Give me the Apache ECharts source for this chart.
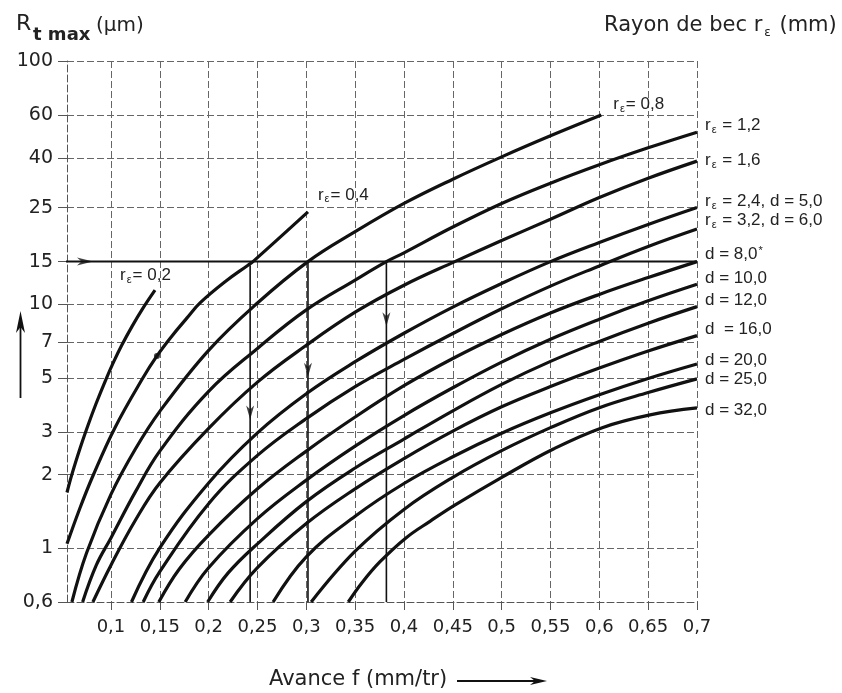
<!DOCTYPE html>
<html><head><meta charset="utf-8">
<script src="https://cdn.jsdelivr.net/npm/echarts@6/dist/echarts.min.js"></script>
<style>html,body{margin:0;padding:0;background:#fff}#c{width:842px;height:693px}</style>
</head><body><div id="c"></div>
<script>
// ---- axis ticks ----
const xTicks = [0.1, 0.15, 0.2, 0.25, 0.3, 0.35, 0.4, 0.45, 0.5, 0.55, 0.6, 0.65, 0.7];
const yTicks = [0.6, 1, 2, 3, 5, 7, 10, 15, 25, 40, 60, 100];

// ---- curves: [feed f (mm/tr), Rt max (µm)] ----
const rE02 = [[0.055,1.69],[0.0601,2.01],[0.0683,2.56],[0.0755,3.11],[0.0847,3.91],[0.0949,4.93],[0.1031,5.85],[0.1113,6.83],[0.1216,8.13],[0.1328,9.66],[0.1451,11.45]];
const rE04 = [[0.055,1.04],[0.0683,1.46],[0.0816,1.98],[0.1041,3.12],[0.1328,5.0],[0.1471,6.15],[0.1625,7.43],[0.1779,8.81],[0.1912,10.15],[0.2168,12.4],[0.2403,14.5],[0.2454,15],[0.3017,24]];
const rE08 = [[0.06,0.6],[0.075,0.954],[0.1,1.66],[0.125,2.55],[0.15,3.64],[0.2,6.48],[0.25,10.14],[0.3017,15],[0.35,19.9],[0.4,26],[0.45,32.7],[0.5,40.4],[0.55,49.3],[0.602,60]];
const rE12 = [[0.071,0.6],[0.085,0.85],[0.1,1.1],[0.125,1.7],[0.15,2.5],[0.2,4.4],[0.25,6.6],[0.3,9.5],[0.35,12.6],[0.382,15],[0.4,16.3],[0.45,20.8],[0.5,26],[0.55,31.5],[0.6,37.5],[0.65,44],[0.7,51]];
const rE16 = [[0.0815,0.6],[0.1,0.85],[0.125,1.3],[0.15,1.85],[0.2,3.1],[0.25,4.8],[0.3,6.8],[0.35,9.3],[0.4,12.0],[0.452,15],[0.5,18.3],[0.55,22.4],[0.6,27.5],[0.65,33],[0.7,38.8]];
const d05 = [[0.121,0.6],[0.15,1.0],[0.2,1.85],[0.25,2.97],[0.3,4.3],[0.35,5.82],[0.4,7.62],[0.45,9.76],[0.5,12.2],[0.55,15],[0.6,17.97],[0.65,21.3],[0.7,25]];
const d06 = [[0.133,0.6],[0.15,0.8],[0.2,1.52],[0.25,2.4],[0.3,3.4],[0.35,4.6],[0.4,5.95],[0.45,7.6],[0.5,9.6],[0.55,11.9],[0.6,14.4],[0.65,17.3],[0.7,20.4]];
const d08 = [[0.149,0.6],[0.17,0.82],[0.2,1.13],[0.25,1.75],[0.3,2.5],[0.35,3.45],[0.4,4.64],[0.45,6.0],[0.5,7.53],[0.55,9.23],[0.6,11.0],[0.65,12.9],[0.7,15]];
const d10 = [[0.176,0.6],[0.2,0.83],[0.25,1.32],[0.3,1.9],[0.35,2.62],[0.4,3.5],[0.45,4.55],[0.5,5.8],[0.55,7.2],[0.6,8.7],[0.65,10.35],[0.7,12.1]];
const d12 = [[0.199,0.6],[0.22,0.79],[0.25,1.04],[0.3,1.55],[0.35,2.13],[0.4,2.8],[0.45,3.66],[0.5,4.7],[0.55,5.84],[0.6,7.05],[0.65,8.38],[0.7,9.8]];
const d16 = [[0.222,0.6],[0.25,0.83],[0.3,1.26],[0.35,1.75],[0.4,2.33],[0.45,3.02],[0.5,3.8],[0.55,4.6],[0.6,5.48],[0.65,6.44],[0.7,7.45]];
const d20 = [[0.266,0.6],[0.3,0.92],[0.35,1.35],[0.4,1.84],[0.45,2.37],[0.5,2.96],[0.55,3.59],[0.6,4.26],[0.65,4.97],[0.7,5.7]];
const d25 = [[0.305,0.6],[0.35,0.97],[0.4,1.44],[0.45,1.95],[0.5,2.51],[0.55,3.12],[0.6,3.77],[0.65,4.35],[0.7,4.95]];
const d32 = [[0.343,0.6],[0.357,0.72],[0.3755,0.878],[0.402,1.10],[0.427,1.29],[0.452,1.5],[0.501,1.96],[0.553,2.55],[0.603,3.12],[0.652,3.52],[0.7,3.76]];

// ---- curve labels ----
const labelRE02 = '{a|r}{s|ε}{a|= 0,2}';
const labelRE04 = '{a|r}{s|ε}{a|= 0,4}';
const labelRE08 = '{a|r}{s|ε}{a|= 0,8}';
const labelRE12 = '{a|r}{s|ε}{a| = 1,2}';
const labelRE16 = '{a|r}{s|ε}{a| = 1,6}';
const labelD05 = '{a|r}{s|ε}{a| = 2,4, d = 5,0}';
const labelD06 = '{a|r}{s|ε}{a| = 3,2, d = 6,0}';
const labelD08 = '{a|d = 8,0}{p|*}';
const labelD10 = '{a|d = 10,0}';
const labelD12 = '{a|d = 12,0}';
const labelD16 = '{a|d  = 16,0}';
const labelD20 = '{a|d = 20,0}';
const labelD25 = '{a|d = 25,0}';
const labelD32 = '{a|d = 32,0}';

// ---- reading example (arrows) ----
const refLevel = 15;
const refLineStart = 0.048;
const refLineEnd = 0.7;
const refFeeds = [0.2425, 0.3017, 0.382];
const refTops = [14.5, 15, 15];
const refArrowValues = [3.6, 5.4, 8.7];
const refArrowInFeed = 0.0734;
const boldDot = [[0.1471, 6.15]];

const FONT = 'Liberation Sans, Arial, sans-serif';
const TICKFONT = 'DejaVu Sans, sans-serif';
const rich = {
  a: {fontSize: 17, fontFamily: FONT, color: '#222', lineHeight: 20},
  s: {fontSize: 11, fontFamily: FONT, color: '#222', lineHeight: 20, verticalAlign: 'bottom', padding: [6, 1, 0, 1]},
  p: {fontSize: 11, fontFamily: FONT, color: '#222', lineHeight: 20, padding: [0, 0, 8, 1]}
};

function curve(name, data, label, offset, dist) {
  return {
    name: name, type: 'line', data: data, smooth: 0.4,
    showSymbol: false, symbol: 'none', silent: true, z: 5,
    lineStyle: {color: '#111', width: 3.2},
    endLabel: {show: true, formatter: () => label, rich: rich, distance: dist === undefined ? 8 : dist, offset: offset || [0, 0]}
  };
}

const series = [
  curve('rE02', rE02, labelRE02, [-40, -15], 5),
  curve('rE04', rE04, labelRE04, [5, -17], 5),
  curve('rE08', rE08, labelRE08, [7, -11], 5),
  curve('rE12', rE12, labelRE12, [0, -7]),
  curve('rE16', rE16, labelRE16, [0, -1]),
  curve('d05', d05, labelD05, [0, -6]),
  curve('d06', d06, labelD06, [0, -9]),
  curve('d08', d08, labelD08, [0, -7]),
  curve('d10', d10, labelD10, [0, -6]),
  curve('d12', d12, labelD12, [0, -6]),
  curve('d16', d16, labelD16, [0, -6]),
  curve('d20', d20, labelD20, [0, -4]),
  curve('d25', d25, labelD25, [0, 0]),
  curve('d32', d32, labelD32, [0, 2]),
  {
    name: 'refH', type: 'line', data: [[refLineStart, refLevel], [refLineEnd, refLevel]],
    showSymbol: false, symbol: 'none', clip: false, silent: true, z: 4,
    lineStyle: {color: '#111', width: 2}
  }
];
refFeeds.forEach((f, i) => {
  series.push({
    name: 'refV' + i, type: 'line', data: [[f, refTops[i]], [f, 0.6]],
    showSymbol: false, symbol: 'none', silent: true, z: 4,
    lineStyle: {color: '#111', width: 1.6}
  });
});
const arrowPath = 'path://M0,0 L5,14 L10,0 L5,4 Z';
series.push({
  name: 'arrowsDown', type: 'scatter', silent: true, z: 6,
  data: refFeeds.map((f, i) => [f, refArrowValues[i]]),
  symbol: arrowPath, symbolSize: [8, 14], itemStyle: {color: '#111'}
});
series.push({
  name: 'arrowIn', type: 'scatter', silent: true, z: 6,
  data: [[refArrowInFeed, refLevel]],
  symbol: arrowPath, symbolSize: [8, 16], symbolRotate: 90, itemStyle: {color: '#111'}
});
series.push({
  name: 'dot', type: 'scatter', silent: true, z: 6, data: boldDot,
  symbol: 'circle', symbolSize: 6, itemStyle: {color: '#111'}
});

const fmt = v => String(Math.round(v * 1000) / 1000).replace('.', ',');
const gridLine = {show: true, lineStyle: {color: '#666', width: 1, type: [7, 3]}};

const chart = echarts.init(document.getElementById('c'), null, {renderer: 'canvas'});
chart.setOption({
  animation: false,
  backgroundColor: '#fff',
  grid: {left: 67, right: 145, top: 61, bottom: 91, containLabel: false, outerBoundsMode: 'none'},
  title: [
    {text: 'R', left: 11, top: 8, textStyle: {fontSize: 22, fontWeight: 'normal', fontFamily: TICKFONT, color: '#222'}},
    {text: 't max', left: 28, top: 21, textStyle: {fontSize: 18, fontWeight: 'bold', fontFamily: TICKFONT, color: '#222'}},
    {text: '(µm)', left: 91, top: 11, textStyle: {fontSize: 20, fontWeight: 'normal', fontFamily: TICKFONT, color: '#222'}},
    {text: '{a|Rayon de bec r}{s|ε}{a| (mm)}', left: 599, top: 8, textStyle: {fontWeight: 'normal',
      rich: {a: {fontSize: 21, fontWeight: 'normal', fontFamily: TICKFONT, color: '#222', lineHeight: 26},
             s: {fontSize: 12, fontWeight: 'normal', fontFamily: TICKFONT, color: '#222', lineHeight: 26, verticalAlign: 'bottom', padding: [8, 2, 0, 2]}}}},
    {text: 'Avance f (mm/tr)', left: 264, top: 664, textStyle: {fontSize: 21, fontWeight: 'normal', fontFamily: TICKFONT, color: '#222'}}
  ],
  graphic: [
    {type: 'line', shape: {x1: 457, y1: 681, x2: 540, y2: 681}, style: {stroke: '#111', lineWidth: 1.8}},
    {type: 'polygon', shape: {points: [[547, 681], [530, 677], [535, 681], [530, 685]]}, style: {fill: '#111'}},
    {type: 'line', shape: {x1: 20.5, y1: 398, x2: 20.5, y2: 318}, style: {stroke: '#111', lineWidth: 1.8}},
    {type: 'polygon', shape: {points: [[20.5, 311], [16, 333], [20.5, 327], [25, 333]]}, style: {fill: '#111'}}
  ],
  xAxis: {
    type: 'value', min: 0.055, max: 0.7,
    axisLine: {show: true, lineStyle: {color: '#555', width: 1, type: [7, 3]}},
    axisTick: {show: true, length: 8, customValues: xTicks, lineStyle: {color: '#555'}},
    axisLabel: {customValues: xTicks, formatter: fmt, fontSize: 18, fontFamily: TICKFONT, color: '#222', margin: 16},
    splitLine: gridLine
  },
  yAxis: {
    type: 'log', logBase: 10, min: 0.6, max: 100,
    axisLine: {show: true, lineStyle: {color: '#555', width: 1, type: [7, 3]}},
    axisTick: {show: true, length: 9, customValues: yTicks, lineStyle: {color: '#555'}},
    axisLabel: {customValues: yTicks, formatter: fmt, fontSize: 19, fontFamily: TICKFONT, color: '#222', margin: 14},
    splitLine: gridLine
  },
  series: series
});
</script>
</body></html>
